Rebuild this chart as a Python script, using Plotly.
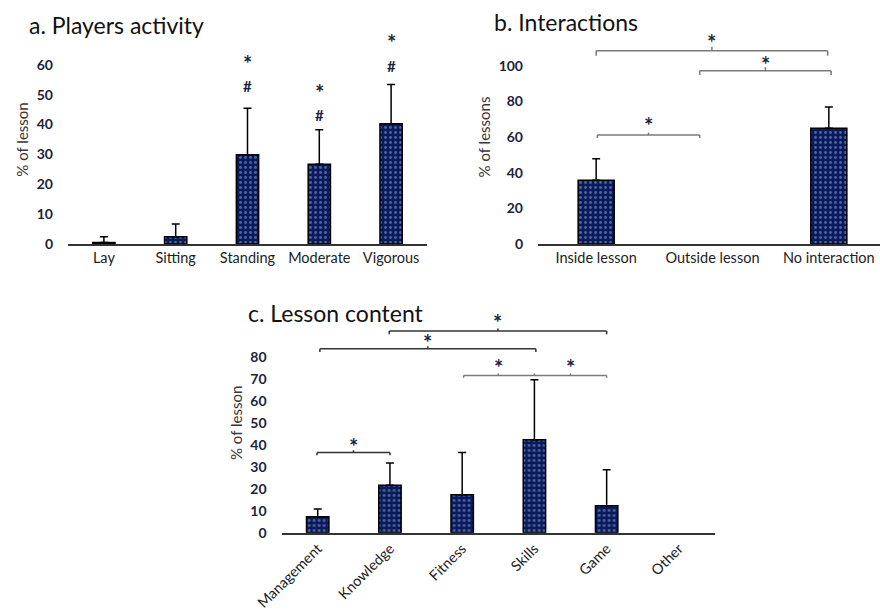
import plotly.graph_objects as go

W, H = 880, 615

# ---------- data ----------
act_cats = ["Lay", "Sitting", "Standing", "Moderate", "Vigorous"]
act_mean = [0.5, 2.4, 29.9, 26.7, 40.3]
act_upper = [2.4, 6.7, 45.5, 38.3, 53.4]
act_star_y = [None, None, 62, 52.3, 69.1]
act_hash_y = [None, None, 53, 43.3, 59.7]

int_cats = ["Inside lesson", "Outside lesson", "No interaction"]
int_mean = [35.7, 0, 64.9]
int_upper = [47.8, 0, 76.8]
# brackets: (x0, x1, y, leg_y, star_y)
int_brackets = [(0, 1.99, 108.4, 105.6, 116.0),
                (0.89, 2.02, 97.2, 94.8, 103.7),
                (0.01, 0.89, 61.1, 59.4, 69.5)]

con_cats = ["Management", "Knowledge", "Fitness", "Skills", "Game", "Other"]
con_mean = [7.3, 21.6, 17.3, 42.3, 12.3, 0]
con_upper = [10.8, 31.7, 36.5, 69.6, 28.6, 0]
con_brackets = [(-0.01, 1.0, 36.5, 35.2, 41.5),
                (0.03, 3.02, 83.7, 82.2, 88.8),
                (0.99, 4.0, 91.8, 90.3, 97.9)]
con_long_bracket = (2.02, 4.0, 71.6, 70.5)
con_long_stars_x = [2.5, 3.5]
con_long_star_y = 77.6

# ---------- styling ----------
NAVY = "#0b1a5a"
DOT = "#8fb0e8"
FONT = "Lato, 'Open Sans', sans-serif"
TICKC = "#1b1f3b"
STAR_SIZE = 22

def px_x(p):
    return p / W

def px_y(p):
    return 1 - p / H

fig = go.Figure()

def add_bars(cats, mean, upper, xa, ya):
    fig.add_trace(go.Bar(
        x=cats, y=[m if m > 0 else None for m in mean], xaxis=xa, yaxis=ya, width=0.31,
        marker=dict(color=NAVY, line=dict(color="black", width=1.5),
                    pattern=dict(shape=".", fgcolor=DOT, bgcolor=NAVY,
                                 size=5, solidity=0.25, fillmode="overlay")),
        error_y=dict(type="data", symmetric=False,
                     array=[u - m for u, m in zip(upper, mean)],
                     arrayminus=[0] * len(mean),
                     color="black", thickness=1.5, width=4),
        showlegend=False, cliponaxis=False))

add_bars(act_cats, act_mean, act_upper, "x", "y")
add_bars(int_cats, int_mean, int_upper, "x2", "y2")
add_bars(con_cats, con_mean, con_upper, "x3", "y3")

common_x = dict(showline=True, linecolor="#333", linewidth=1.5, ticks="",
                showgrid=False, zeroline=False,
                tickfont=dict(family=FONT, size=14.5, color="#222"))
common_y = dict(showline=False, showgrid=False, zeroline=False, ticks="",
                tickfont=dict(family=FONT, size=14, color=TICKC, weight="bold"),
                ticklabelstandoff=14)
ytitle_font = dict(family=FONT, size=15, color="#3e3535")

fig.update_layout(
    width=W, height=H, margin=dict(l=0, r=0, t=0, b=0, autoexpand=False),
    paper_bgcolor="white", plot_bgcolor="white", bargap=0.6,
    xaxis=dict(domain=[px_x(68), px_x(427)], range=[-0.5, 4.5], anchor="y", **common_x),
    yaxis=dict(domain=[px_y(244), px_y(35)], range=[0, 70], anchor="x",
               tickvals=[0, 10, 20, 30, 40, 50, 60],
               title=dict(text="% of lesson", font=ytitle_font, standoff=4),
               **common_y),
    xaxis2=dict(domain=[px_x(538), 1.0], range=[-0.5, 2.44], anchor="y2", **common_x),
    yaxis2=dict(domain=[px_y(244), px_y(30)], range=[0, 120], anchor="x2",
                tickvals=[0, 20, 40, 60, 80, 100],
                title=dict(text="% of lessons", font=ytitle_font, standoff=4),
                **common_y),
    xaxis3=dict(domain=[px_x(281.6), px_x(715)], range=[-0.5, 5.5], anchor="y3",
                tickangle=-45, **common_x),
    yaxis3=dict(domain=[px_y(532.7), px_y(313)], range=[0, 100], anchor="x3",
                tickvals=[0, 10, 20, 30, 40, 50, 60, 70, 80],
                title=dict(text="% of lesson", font=ytitle_font, standoff=4),
                **common_y),
)

ann = []
title_font = dict(family=FONT, size=23, color="#111")
ann.append(dict(text="a. Players activity", x=px_x(27), y=px_y(25), xref="paper", yref="paper",
                xanchor="left", yanchor="middle", showarrow=False, font=title_font))
ann.append(dict(text="b. Interactions", x=px_x(492), y=px_y(22), xref="paper", yref="paper",
                xanchor="left", yanchor="middle", showarrow=False, font=title_font))
ann.append(dict(text="c. Lesson content", x=px_x(246), y=px_y(313), xref="paper", yref="paper",
                xanchor="left", yanchor="middle", showarrow=False, font=title_font))

def star(x, y, xr, yr):
    ann.append(dict(text="*", x=x, y=y, xref=xr, yref=yr, showarrow=False, yshift=-5,
                    font=dict(family=FONT, size=STAR_SIZE, color=TICKC, weight="bold"),
                    yanchor="middle"))

for i, c in enumerate(act_cats):
    if act_star_y[i] is not None:
        star(c, act_star_y[i], "x", "y")
    if act_hash_y[i] is not None:
        ann.append(dict(text="#", x=c, y=act_hash_y[i], xref="x", yref="y", showarrow=False,
                        font=dict(family=FONT, size=15, color=TICKC, weight="bold"), yanchor="middle"))

shapes = []

def bracket(x0, x1, y, leg, xr, yr, color, tick_xs):
    shapes.append(dict(type="line", x0=x0, x1=x1, y0=y, y1=y, xref=xr, yref=yr,
                       line=dict(color=color, width=1.5)))
    for xx in (x0, x1):
        shapes.append(dict(type="line", x0=xx, x1=xx, y0=leg, y1=y, xref=xr, yref=yr,
                           line=dict(color=color, width=1.5)))
    for tx in tick_xs:
        shapes.append(dict(type="line", x0=tx, x1=tx, y0=y, y1=y + (y - leg) * 0.8,
                           xref=xr, yref=yr, line=dict(color=color, width=1.5)))

for (x0, x1, y, leg, sy) in int_brackets:
    bracket(x0, x1, y, leg, "x2", "y2", "#7a7a7a", [(x0 + x1) / 2])
    star((x0 + x1) / 2, sy, "x2", "y2")

for (x0, x1, y, leg, sy) in con_brackets:
    bracket(x0, x1, y, leg, "x3", "y3", "#333", [(x0 + x1) / 2])
    star((x0 + x1) / 2, sy, "x3", "y3")

lx0, lx1, ly, lleg = con_long_bracket
bracket(lx0, lx1, ly, lleg, "x3", "y3", "#7a7a7a", con_long_stars_x + [3])
for sx in con_long_stars_x:
    star(sx, con_long_star_y, "x3", "y3")

fig.update_layout(annotations=ann, shapes=shapes)
fig.write_html("out.html", config={"displayModeBar": False},
               post_script="document.body.style.margin='0';document.body.style.overflow='hidden';")
